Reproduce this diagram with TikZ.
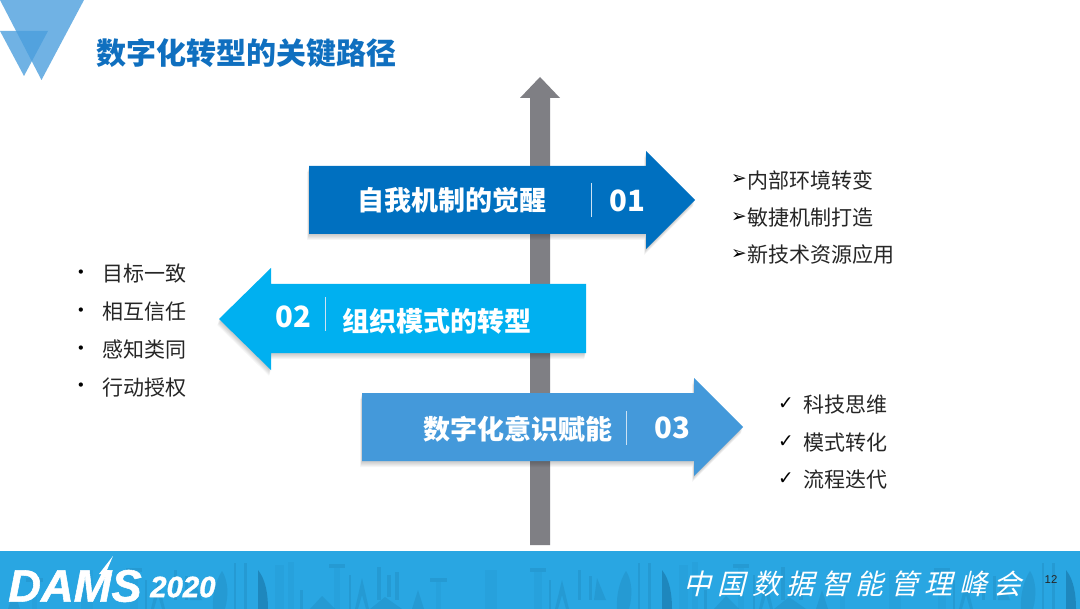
\documentclass[tikz,border=0pt]{standalone}
\usepackage{fontspec}
\setmainfont{Noto Sans CJK SC}
\newfontfamily\footfont[FakeSlant=0.25]{Noto Sans CJK SC}
\newfontfamily\logofont[FakeBold=1.2]{Liberation Sans}
\newfontfamily\pagefont{Liberation Sans}
\newfontfamily\symfont{DejaVu Sans}
\usetikzlibrary{positioning}

\definecolor{titleblue}{HTML}{0F6FBF}
\definecolor{stemgrey}{HTML}{7F7F84}
\definecolor{arrowone}{HTML}{0070C0}
\definecolor{arrowtwo}{HTML}{00B0F0}
\definecolor{arrowthree}{HTML}{4499DA}
\definecolor{cornerblue}{HTML}{4A9EDD}
\definecolor{footblue}{HTML}{29A6E2}
\definecolor{skyblue}{HTML}{156A9A}
\definecolor{listtext}{HTML}{262626}

\tikzset{
    arrow label/.style={text=white,font=\fontsize{20.25}{24}\selectfont\bfseries},
    arrow num/.style={text=white,font=\fontsize{22}{26}\selectfont\bfseries},
    list item/.style={anchor=west,inner sep=0pt,text=listtext,font=\fontsize{15.75}{19}\selectfont},
    list mark/.style={anchor=center,inner sep=0pt,text=black,font=\symfont\fontsize{11}{13}\selectfont},
    big mark/.style={list mark,font=\symfont\fontsize{14}{16}\selectfont},
    sep line/.style={white!80!arrowone,line width=0.6pt},
    foot char/.style={inner sep=0pt,text=white,font=\footfont\fontsize{21}{25}\selectfont},
    sky/.style={fill=skyblue,opacity=0.2},
    sky dark/.style={fill=skyblue,opacity=0.5},
    sky pale/.style={fill=skyblue,opacity=0.07}
}

% soft shadow, a few shifted copies of the same outline
\newcommand{\softshadow}[1]{
    \foreach \k in {1,...,6}
        \fill[black,opacity=0.035,shift={(-0.3*\k,\k)}] #1;
}

% one stretch of the skyline, 404px wide
\newcommand{\skytile}{
    \fill[sky] (222,571) .. controls (228,580) and (229,595) .. (225,609) -- (213,609) .. controls (212,595) and (216,580) .. (222,571) -- cycle;
    \fill[sky] (234,563) rectangle (236,609);
    \fill[sky] (244,563) rectangle (247,609);
    \fill[sky dark] (258,570) .. controls (266,580) and (268,595) .. (268,609) -- (258,609) -- cycle;
    \fill[sky pale] (275,565) rectangle (284,609);
    \fill[sky pale] (288,562) rectangle (294,609);
    \fill[sky] (300,590) rectangle (303,609);
    \fill[sky] (329,564) rectangle (345,568);
    \fill[sky pale] (334,568) rectangle (340,609);
    \fill[sky] (349,575) rectangle (351,609);
    \fill[sky] (362,578) -- (369,609) -- (366,609) -- (362,595) -- (358,609) -- (355,609) -- cycle;
    \fill[sky] (377,567) rectangle (381,600);
    \fill[sky] (387,575) rectangle (391,597);
    \fill[sky] (395,572) rectangle (399,600);
    \fill[sky] (310,609) -- (322,596) -- (335,609) -- cycle;
    \fill[sky] (370,609) -- (385,597) -- (402,609) -- cycle;
    \fill[sky] (418,590) -- (424,609) -- (412,609) -- cycle;
    \fill[sky] (430,578) rectangle (447,582);
    \fill[sky pale] (436,582) rectangle (441,609);
    \fill[sky pale] (485,570) rectangle (497,609);
    \fill[sky] (530,568) rectangle (546,572);
    \fill[sky pale] (534,572) rectangle (542,609);
    \fill[sky] (549,580) rectangle (551,609);
    \fill[sky] (562,580) -- (569,609) -- (566,609) -- (562,595) -- (558,609) -- (555,609) -- cycle;
    \fill[sky] (578,570) rectangle (581,600);
    \fill[sky] (589,576) rectangle (592,600);
    \fill[sky] (597,578) -- (606,600) -- (594,600) -- cycle;
}

\begin{document}
\begin{tikzpicture}[x=0.75pt,y=-0.75pt]
    \useasboundingbox (0,0) rectangle (1080,609);
    \fill[white] (0,0) rectangle (1080,609);

    % corner triangles
    \fill[cornerblue,opacity=0.79] (0,0) -- (84,0) -- (41.5,80) -- cycle;
    \fill[cornerblue,opacity=0.79] (0,31) -- (48,31) -- (24,76) -- cycle;
    \node[anchor=west,inner sep=0pt,text=titleblue,font=\fontsize{22.5}{26}\selectfont\bfseries] (title) at (96,53) {数字化转型的关键路径};

    % stem
    \fill[stemgrey] (530,545) -- (530,98) -- (520,98) -- (540,77) -- (560,98) -- (550,98) -- (550,545) -- cycle;

    % arrow 01
    \def\pathone{(309,166) -- (646,166) -- (646,151) -- (695,200) -- (646,249) -- (646,234) -- (309,234) -- cycle}
    \softshadow{\pathone}
    \fill[arrowone] \pathone;
    \node[arrow label] (one) at (452,200) {自我机制的觉醒};
    \node[arrow num] (onenum) at (627.5,201) {01};
    \coordinate (onea) at (591,183);
    \coordinate (oneb) at (591,217);
    \draw[sep line] (onea) -- (oneb);

    % arrow 02
    \def\pathtwo{(586,284) -- (271,284) -- (271,268) -- (219,319) -- (271,370) -- (271,353) -- (586,353) -- cycle}
    \softshadow{\pathtwo}
    \fill[arrowtwo] \pathtwo;
    \node[arrow label] (two) at (437,321) {组织模式的转型};
    \node[arrow num] (twonum) at (293.5,317) {02};
    \coordinate (twoa) at (325,297);
    \coordinate (twob) at (325,331);
    \draw[sep line] (twoa) -- (twob);

    % arrow 03
    \def\paththree{(362,393) -- (694,393) -- (694,378) -- (743,427) -- (694,476) -- (694,461) -- (362,461) -- cycle}
    \softshadow{\paththree}
    \fill[arrowthree] \paththree;
    \node[arrow label] (three) at (518,429) {数字化意识赋能};
    \node[arrow num] (threenum) at (672.5,428) {03};
    \coordinate (threea) at (626,411);
    \coordinate (threeb) at (626,445);
    \draw[sep line] (threea) -- (threeb);

    % right list, top
    \foreach \txt [count=\i] in {内部环境转变,敏捷机制打造,新技术资源应用} {
        \node[big mark] (ra\i) at (739,180+37.5*\i-37.5) {➢};
        \node[list item] (rt\i) at (747,180+37.5*\i-37.5) {\txt};
    }
    % left list
    \foreach \txt [count=\i] in {目标一致,相互信任,感知类同,行动授权} {
        \node[list mark] (lb\i) at (81,274+37.7*\i-37.7) {•};
        \node[list item] (lt\i) at (102,274+37.7*\i-37.7) {\txt};
    }
    % right list, bottom
    \foreach \txt [count=\i] in {科技思维,模式转化,流程迭代} {
        \node[big mark] (rc\i) at (786,404+37.5*\i-37.5) {✓};
        \node[list item] (rd\i) at (803,405+37.5*\i-37.5) {\txt};
    }

    % footer
    \fill[footblue] (0,551) rectangle (1080,609);
    \begin{scope}
        \clip (0,551) rectangle (1080,609);
        \foreach \dx in {-404,0,404,808} {
            \begin{scope}[shift={(\dx,0)}]
                \skytile
            \end{scope}
        }
    \end{scope}
    \fill[white] (94,590) -- (102,574) -- (99,574) -- (113,556) -- (107,570) -- (110,570) -- cycle;
    \node[anchor=west,inner sep=0pt,text=white,font=\logofont\fontsize{34}{38}\selectfont\bfseries\itshape] (dams) at (8,586) {DAMS};
    \node[anchor=west,inner sep=0pt,text=white,font=\logofont\fontsize{22}{26}\selectfont\bfseries\itshape] (year) at (150,587) {2020};
    \foreach \c [count=\i] in {中,国,数,据,智,能,管,理,峰,会} {
        \node[foot char] (fc\i) at (697+34.5*\i-34.5,584) {\c};
    }
    \node[inner sep=0pt,text=listtext,font=\pagefont\fontsize{8.5}{10}\selectfont] (pagenum) at (1051,580) {12};
\end{tikzpicture}
\end{document}
